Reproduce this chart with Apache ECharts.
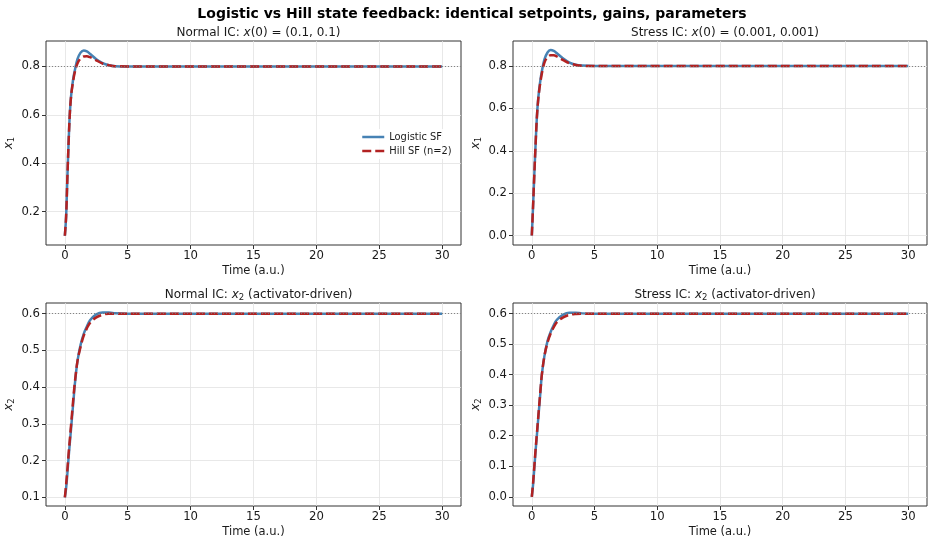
<!DOCTYPE html>
<html>
<head>
<meta charset="utf-8">
<script src="https://cdn.jsdelivr.net/npm/echarts@6/dist/echarts.min.js"></script>
<style>
  html, body { margin: 0; padding: 0; background: #fff; }
  #chart { width: 934px; height: 547px; }
</style>
</head>
<body>
<div id="chart"></div>
<script>
// time points (a.u.)
var time = [0, 0.1, 0.2, 0.3, 0.4, 0.5, 0.6, 0.7, 0.8, 1.0, 1.25, 1.5, 1.75, 2.0, 2.5, 3.0, 3.5, 4.0, 5.0, 30];

// normal IC
var normalX1Logistic = [0.10, 0.18, 0.34, 0.49, 0.61, 0.68, 0.725, 0.76, 0.785, 0.83, 0.857, 0.866, 0.862, 0.852, 0.830, 0.814, 0.805, 0.801, 0.800, 0.800];
var normalX1Hill     = [0.10, 0.18, 0.34, 0.49, 0.61, 0.68, 0.72, 0.752, 0.778, 0.812, 0.833, 0.841, 0.842, 0.838, 0.825, 0.812, 0.805, 0.801, 0.800, 0.800];
var normalX2Logistic = [0.10, 0.125, 0.165, 0.21, 0.25, 0.29, 0.33, 0.37, 0.41, 0.47, 0.515, 0.545, 0.565, 0.582, 0.598, 0.603, 0.603, 0.601, 0.600, 0.600];
var normalX2Hill     = [0.10, 0.135, 0.175, 0.22, 0.26, 0.30, 0.34, 0.38, 0.415, 0.47, 0.51, 0.54, 0.56, 0.575, 0.59, 0.597, 0.600, 0.600, 0.600, 0.600];

// stress IC
var stressX1Logistic = [0.001, 0.14, 0.29, 0.43, 0.555, 0.64, 0.695, 0.74, 0.775, 0.83, 0.864, 0.875, 0.871, 0.86, 0.835, 0.816, 0.806, 0.802, 0.800, 0.800];
var stressX1Hill     = [0.001, 0.14, 0.29, 0.43, 0.555, 0.635, 0.69, 0.73, 0.765, 0.815, 0.842, 0.851, 0.851, 0.845, 0.828, 0.813, 0.805, 0.801, 0.800, 0.800];
var stressX2Logistic = [0.0, 0.04, 0.095, 0.15, 0.20, 0.25, 0.30, 0.35, 0.40, 0.46, 0.51, 0.54, 0.563, 0.58, 0.597, 0.603, 0.603, 0.601, 0.600, 0.600];
var stressX2Hill     = [0.0, 0.045, 0.10, 0.155, 0.205, 0.255, 0.305, 0.355, 0.40, 0.46, 0.505, 0.535, 0.556, 0.572, 0.588, 0.596, 0.599, 0.600, 0.600, 0.600];

var setpoints = [0.8, 0.8, 0.6, 0.6];

// axis ranges and tick labels
var xRange = [-1.5, 31.5];
var xTicks = [0, 5, 10, 15, 20, 25, 30];
var yRanges = [[0.0617, 0.905], [-0.0437, 0.918], [0.0764, 0.629], [-0.0302, 0.635]];
var yTicks = [
  [0.2, 0.4, 0.6, 0.8],
  [0.0, 0.2, 0.4, 0.6, 0.8],
  [0.1, 0.2, 0.3, 0.4, 0.5, 0.6],
  [0.0, 0.1, 0.2, 0.3, 0.4, 0.5, 0.6]
];
var seriesNames = ['Logistic SF', 'Hill SF (n=2)'];

function pairs(ys) {
  return time.map(function (t, i) { return [t, ys[i]]; });
}

var FONT = 'DejaVu Sans';
var TXT = '#1a1a1a';
var BLUE = '#4682b4';
var RED = '#b22222';

var grids = [
  { left: 46, right: 473, top: 41, height: 204 },
  { left: 513, right: 7, top: 41, height: 204 },
  { left: 46, right: 473, top: 303, height: 203 },
  { left: 513, right: 7, top: 303, height: 203 }
];
grids.forEach(function (g) {
  g.show = true;
  g.borderColor = '#333';
  g.borderWidth = 1;
  g.backgroundColor = '#fff';
});

var panelData = [
  [normalX1Logistic, normalX1Hill],
  [stressX1Logistic, stressX1Hill],
  [normalX2Logistic, normalX2Hill],
  [stressX2Logistic, stressX2Hill]
];
var yNames = ['{i|x}{s|1}', '{i|x}{s|1}', '{i|x}{s|2}', '{i|x}{s|2}'];

var richBase = {
  i: { fontStyle: 'italic', fontFamily: FONT, fontSize: 12, color: TXT },
  s: { fontFamily: FONT, fontSize: 8.5, color: TXT, padding: [5, 0, 0, 0] }
};

var xAxes = [], yAxes = [], series = [];
for (var k = 0; k < 4; k++) {
  xAxes.push({
    type: 'value', gridIndex: k, min: xRange[0], max: xRange[1],
    name: 'Time (a.u.)', nameLocation: 'middle', nameGap: 20,
    nameTextStyle: { fontFamily: FONT, fontSize: 11.5, color: TXT },
    axisLine: { show: false, onZero: false },
    axisTick: { show: true, inside: false, length: 4, customValues: xTicks, lineStyle: { color: '#333' } },
    axisLabel: { customValues: xTicks, fontFamily: FONT, fontSize: 11.7, color: TXT, margin: 5 },
    splitLine: { show: true, lineStyle: { color: '#e2e2e2', width: 0.8 } }
  });
  yAxes.push({
    type: 'value', gridIndex: k, min: yRanges[k][0], max: yRanges[k][1],
    name: yNames[k], nameLocation: 'middle', nameGap: 30, nameRotate: 90,
    nameTextStyle: { fontFamily: FONT, fontSize: 12, color: TXT, rich: richBase },
    axisLine: { show: false, onZero: false },
    axisTick: { show: true, inside: false, length: 4, customValues: yTicks[k], lineStyle: { color: '#333' } },
    axisLabel: {
      customValues: yTicks[k], fontFamily: FONT, fontSize: 11.7, color: TXT, margin: 6,
      formatter: function (v) { return v.toFixed(1); }
    },
    splitLine: { show: true, lineStyle: { color: '#e2e2e2', width: 0.8 } }
  });
  series.push({
    name: seriesNames[0], type: 'line', xAxisIndex: k, yAxisIndex: k,
    data: pairs(panelData[k][0]), showSymbol: false, symbol: 'none', smooth: 0.35,
    lineStyle: { color: BLUE, width: 2.5 }, itemStyle: { color: BLUE }, z: 3,
    markLine: {
      silent: true, symbol: 'none', label: { show: false },
      lineStyle: { color: '#777', type: [1, 2], width: 0.9 },
      data: [{ yAxis: setpoints[k] }]
    }
  });
  series.push({
    name: seriesNames[1], type: 'line', xAxisIndex: k, yAxisIndex: k,
    data: pairs(panelData[k][1]), showSymbol: false, symbol: 'none', smooth: 0.35,
    lineStyle: { color: RED, width: 2.5, type: [9, 4] }, itemStyle: { color: RED }, z: 4
  });
}

function subTitle(text, cx, top) {
  return {
    text: text, left: cx, top: top, textAlign: 'center',
    textStyle: { fontFamily: FONT, fontSize: 12, fontWeight: 'normal', color: TXT, rich: richBase }
  };
}

var option = {
  animation: false,
  backgroundColor: '#fff',
  title: [
    {
      text: 'Logistic vs Hill state feedback: identical setpoints, gains, parameters',
      left: 467, top: 2, textAlign: 'center',
      textStyle: { fontFamily: FONT, fontSize: 14, fontWeight: 'bold', color: '#000' }
    },
    subTitle('Normal IC: {i|x}(0) = (0.1, 0.1)', 253.5, 22),
    subTitle('Stress IC: {i|x}(0) = (0.001, 0.001)', 720, 22),
    subTitle('Normal IC: {i|x}{s|2} (activator-driven)', 253.5, 283),
    subTitle('Stress IC: {i|x}{s|2} (activator-driven)', 720, 283)
  ],
  legend: {
    data: seriesNames, orient: 'vertical', left: 357, top: 129,
    itemWidth: 22, itemHeight: 10, itemGap: 4, padding: [3, 4, 3, 4],
    backgroundColor: 'rgba(255,255,255,0.85)',
    itemStyle: { opacity: 0 },
    lineStyle: { width: 2.5 },
    textStyle: { fontFamily: FONT, fontSize: 9.9, color: TXT }
  },
  grid: grids,
  xAxis: xAxes,
  yAxis: yAxes,
  series: series
};

var myChart = echarts.init(document.getElementById('chart'));
myChart.setOption(option);
</script>
</body>
</html>
